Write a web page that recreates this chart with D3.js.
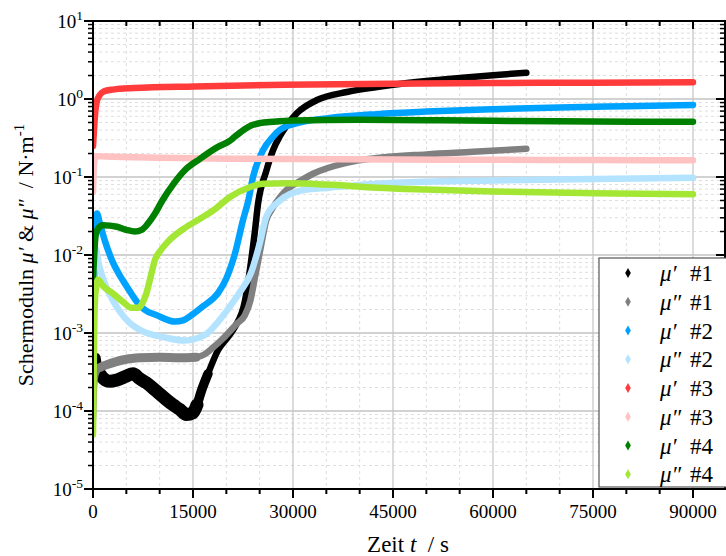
<!DOCTYPE html>
<html><head><meta charset="utf-8">
<script src="https://cdn.jsdelivr.net/npm/d3@7"></script>
<style>
body{margin:0;background:#fff}
svg{display:block}
text{font-family:"Liberation Serif","Times New Roman",serif;fill:#000}
</style>
</head><body><svg id="c" width="726" height="556"></svg>
<script>
// ---- data (t in s, modulus in N/m) ----
const mu1p = [[0,3e-4],[300,4.5e-4],[600,5e-4],[1000,3e-4],[1600,2.6e-4],[2500,2.4e-4],[3600,2.5e-4],[5000,2.8e-4],[6000,3e-4],[7000,2.6e-4],[8000,2.3e-4],[9500,1.8e-4],[11000,1.4e-4],[12000,1.2e-4],[13000,1.05e-4],[14000,9e-5],[15000,9.5e-5],[15600,1.2e-4],[16250,1.8e-4],[17250,3e-4],[18750,6e-4],[20300,9e-4],[21300,1.2e-3],[22800,2.6e-3],[23600,7.1e-3],[24250,0.019],[24750,0.045],[26000,0.12],[27000,0.22],[28000,0.33],[29000,0.45],[30600,0.66],[33600,0.97],[38100,1.23],[42600,1.42],[45000,1.52],[50000,1.70],[55000,1.86],[60000,2.02],[65000,2.17]];
const mu1pp = [[0,8e-5],[150,2e-4],[400,3e-4],[1000,3.6e-4],[2000,3.9e-4],[3500,4.3e-4],[5000,4.6e-4],[7000,4.8e-4],[10000,4.9e-4],[13000,4.8e-4],[15500,4.9e-4],[16700,5.3e-4],[18000,6.5e-4],[19500,8.5e-4],[20300,1.0e-3],[21500,1.3e-3],[22800,1.7e-3],[23600,2.6e-3],[24300,5.2e-3],[25200,0.013],[26000,0.028],[26800,0.038],[29000,0.068],[31000,0.088],[33000,0.11],[38000,0.152],[42600,0.175],[50000,0.195],[57000,0.21],[65000,0.23]];
const mu2p = [[0,4e-4],[150,3e-3],[300,0.02],[600,0.034],[1000,0.026],[1800,0.015],[3000,8e-3],[4000,5.5e-3],[5100,3.9e-3],[6600,2.5e-3],[7700,2e-3],[9500,1.7e-3],[12300,1.4e-3],[13500,1.45e-3],[14800,1.7e-3],[16500,2.2e-3],[18800,3.3e-3],[20000,5e-3],[21300,0.0105],[22500,0.028],[23300,0.05],[24000,0.1],[25500,0.22],[27000,0.33],[28000,0.4],[30600,0.49],[35500,0.57],[42600,0.64],[50000,0.69],[60000,0.74],[70000,0.78],[80000,0.81],[90000,0.84]];
const mu2pp = [[0,2e-3],[150,0.012],[400,0.012],[800,8e-3],[1500,5e-3],[3000,2.6e-3],[4200,1.8e-3],[5500,1.35e-3],[7500,1.05e-3],[10700,8.8e-4],[13700,8e-4],[15500,8.5e-4],[17200,1e-3],[18800,1.4e-3],[20200,2e-3],[22000,3.3e-3],[23700,5.9e-3],[25000,0.014],[26000,0.031],[27800,0.048],[31500,0.068],[35500,0.073],[42600,0.082],[50000,0.087],[60000,0.09],[75000,0.094],[90000,0.098]];
const mu3p = [[0,0.25],[150,0.4],[350,0.7],[600,0.95],[1000,1.12],[1600,1.25],[3000,1.32],[6200,1.38],[15200,1.45],[28800,1.52],[45000,1.57],[60000,1.6],[75000,1.62],[90000,1.64]];
const mu3pp = [[0,0.065],[100,0.12],[250,0.17],[500,0.185],[2000,0.183],[10000,0.177],[20000,0.172],[30000,0.17],[45000,0.168],[60000,0.166],[75000,0.165],[90000,0.164]];
const mu4p = [[0,5e-3],[150,9e-3],[400,0.018],[800,0.022],[1500,0.024],[3600,0.023],[5000,0.021],[6300,0.02],[7300,0.021],[8200,0.025],[9300,0.034],[10400,0.05],[12000,0.08],[13800,0.123],[16000,0.17],[18800,0.245],[20500,0.29],[21300,0.33],[23800,0.46],[25000,0.49],[27000,0.51],[30000,0.53],[40000,0.54],[50000,0.535],[60000,0.525],[75000,0.515],[90000,0.51]];
const mu4pp = [[0,5e-5],[100,3e-4],[200,1.5e-3],[400,3.5e-3],[750,4.8e-3],[1500,4e-3],[3000,3.2e-3],[4500,2.5e-3],[5800,2.1e-3],[6800,2.1e-3],[7500,2.5e-3],[8000,3.2e-3],[8700,5.5e-3],[9300,8.7e-3],[10000,0.011],[11300,0.015],[13700,0.022],[16300,0.03],[18500,0.04],[20500,0.055],[23500,0.074],[25500,0.082],[29000,0.083],[35000,0.08],[42600,0.073],[50000,0.069],[60000,0.065],[75000,0.062],[90000,0.06]];

const seriesNames = ["μ′ #1","μ″ #1","μ′ #2","μ″ #2","μ′ #3","μ″ #3","μ′ #4","μ″ #4"];
const seriesData = [mu1p, mu1pp, mu2p, mu2pp, mu3p, mu3pp, mu4p, mu4pp];
const seriesColors = ["#000000","#808080","#00a2ff","#b3e3ff","#ff3b3b","#ffc2c2","#008000","#a3e634"];
const xTickValues = [0,15000,30000,45000,60000,75000,90000];
const xTickLabels = ["0","15000","30000","45000","60000","75000","90000"];
const yTickExponents = [1,0,-1,-2,-3,-4,-5];

// ---- layout ----
const L=93, R=725, T=21, B=489;
const svg = d3.select("#c");
const x = d3.scaleLinear().domain([0,94800]).range([L,R]);
const y = d3.scaleLog().domain([1e-5,10]).range([B,T]);

const isPow = v => Math.abs(Math.log10(v) - Math.round(Math.log10(v))) < 1e-9;
const yAll = y.ticks();
const yMinor = yAll.filter(v => !isPow(v));
const yMajor = yAll.filter(v => isPow(v));
const xAll = d3.range(0, 94800, 5000);
const xMinor = xAll.filter(v => v % 15000 !== 0);

// grid
const g = svg.append("g");
g.selectAll(".ymn").data(yMinor).join("line")
  .attr("x1",L).attr("x2",R).attr("y1",d=>y(d)).attr("y2",d=>y(d))
  .attr("stroke","#dedede").attr("stroke-width",1).attr("stroke-dasharray","3,3");
g.selectAll(".xmn").data(xMinor).join("line")
  .attr("y1",T).attr("y2",B).attr("x1",d=>x(d)).attr("x2",d=>x(d))
  .attr("stroke","#dedede").attr("stroke-width",1).attr("stroke-dasharray","3,3");
g.selectAll(".ymj").data(yMajor).join("line")
  .attr("x1",L).attr("x2",R).attr("y1",d=>y(d)).attr("y2",d=>y(d))
  .attr("stroke","#d2d2d2").attr("stroke-width",1.8);
g.selectAll(".xmj").data(xTickValues).join("line")
  .attr("y1",T).attr("y2",B).attr("x1",d=>x(d)).attr("x2",d=>x(d))
  .attr("stroke","#c4c4c4").attr("stroke-width",1.2);

// series
svg.append("clipPath").attr("id","clip").append("rect")
  .attr("x",L).attr("y",T-4).attr("width",R-L).attr("height",B-T+4);
const line = d3.line().x(d=>x(d[0])).y(d=>y(d[1])).curve(d3.curveMonotoneX);
const sg = svg.append("g").attr("clip-path","url(#clip)");
function band(data, lo, hi, w, col){
  sg.append("path").attr("d",line(data.filter(d=>d[0]>=lo && d[0]<=hi))).attr("fill","none")
    .attr("stroke",col).attr("stroke-width",w)
    .attr("stroke-linecap","round").attr("stroke-linejoin","round");
}
seriesData.forEach((data,i)=>{
  band(data, -1, 1e9, 6.5, seriesColors[i]);
  if(i===0){ // noisy early section drawn thicker
    band(data, 1000, 15600, 13, seriesColors[i]);
    band(data, 15000, 17250, 9.5, seriesColors[i]);
  }
  if(i===1){
    band(data, 1000, 16000, 9, seriesColors[i]);
  }
});

// frame + ticks
const ax = svg.append("g").attr("stroke","#000");
ax.append("rect").attr("x",L).attr("y",T).attr("width",R-L).attr("height",B-T)
  .attr("fill","none").attr("stroke-width",2);
yAll.forEach(v=>{
  const maj = isPow(v), yy = y(v);
  ax.append("line").attr("x1",L-(maj?9:5)).attr("x2",L).attr("y1",yy).attr("y2",yy).attr("stroke-width",maj?2:1.5);
  ax.append("line").attr("x1",R-(maj?9:5)).attr("x2",R).attr("y1",yy).attr("y2",yy).attr("stroke-width",maj?2:1.5);
});
xAll.forEach(v=>{
  const maj = v % 15000 === 0, xx = x(v);
  ax.append("line").attr("x1",xx).attr("x2",xx).attr("y1",B).attr("y2",B+(maj?9:5)).attr("stroke-width",2);
  ax.append("line").attr("x1",xx).attr("x2",xx).attr("y1",T).attr("y2",T+(maj?8:5)).attr("stroke-width",2);
});

// tick labels
svg.append("g").selectAll("text").data(xTickValues).join("text")
  .attr("x",d=>x(d)).attr("y",517.5).attr("text-anchor","middle")
  .attr("font-size",19).text((d,i)=>xTickLabels[i]);
const yl = svg.append("g").selectAll("text").data(yTickExponents).join("text")
  .attr("x",83).attr("y",d=>y(Math.pow(10,d))+6.5).attr("text-anchor","end").attr("font-size",19);
yl.append("tspan").text("10");
yl.append("tspan").attr("font-size",13.5).attr("dy",-8).text(d=>d<0?"-"+(-d):String(d));

// axis titles
const xt = svg.append("text").attr("x",408).attr("y",552).attr("text-anchor","middle")
  .attr("font-size",23).style("white-space","pre");
xt.append("tspan").text("Zeit ");
xt.append("tspan").attr("font-style","italic").text("t");
xt.append("tspan").text("  / s");

const yt = svg.append("text").attr("transform","translate(33,255) rotate(-90)")
  .attr("text-anchor","middle").attr("font-size",22).style("white-space","pre");
yt.append("tspan").text("Schermoduln ");
yt.append("tspan").attr("font-style","italic").text("μ′");
yt.append("tspan").text(" & ");
yt.append("tspan").attr("font-style","italic").text("μ″");
yt.append("tspan").text("  / N·m");
yt.append("tspan").attr("font-size",15).attr("dy",-9).text("-1");

// legend
const lg = svg.append("g");
lg.append("rect").attr("x",599).attr("y",258).attr("width",140).attr("height",229)
  .attr("fill","#fff").attr("stroke","#555").attr("stroke-width",1.2);
const rowY = i => 273 + i*28.75;
seriesNames.forEach((nm,i)=>{
  lg.append("path").attr("d",d3.symbol().type(d3.symbolDiamond).size(28)())
    .attr("transform",`translate(628,${rowY(i)})`).attr("fill",seriesColors[i]);
  const parts = nm.split(" ");
  lg.append("text").attr("x",660).attr("y",rowY(i)+8).attr("font-size",23)
    .attr("font-style","italic").text(parts[0]);
  lg.append("text").attr("x",690).attr("y",rowY(i)+8).attr("font-size",23).text(parts[1]);
});
</script>
</body></html>
